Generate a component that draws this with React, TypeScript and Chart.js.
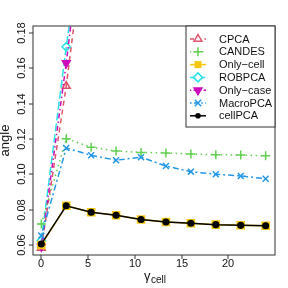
import React, { useEffect, useRef } from "react";
import { Chart, registerables } from "chart.js";

Chart.register(...registerables);

const gammaValues = [0, 2.667, 5.333, 8, 10.667, 13.333, 16, 18.667, 21.333, 24];
const cpca = [0.0583, 0.150, 0.262, 0.30, 0.33, 0.35, 0.36, 0.37, 0.38, 0.39];
const candes = [0.0719, 0.1202, 0.1153, 0.1132, 0.1124, 0.1121, 0.1115, 0.1111, 0.1109, 0.1105];
const onlyCell = [0.0600, 0.0822, 0.0785, 0.0768, 0.0744, 0.0730, 0.0723, 0.0715, 0.0711, 0.0709];
const robpca = [0.0625, 0.1722, 0.275, 0.31, 0.33, 0.35, 0.36, 0.37, 0.38, 0.39];
const onlyCase = [0.0590, 0.1630, 0.280, 0.31, 0.33, 0.35, 0.36, 0.37, 0.38, 0.39];
const macroPCA = [0.0653, 0.1149, 0.1108, 0.1080, 0.1097, 0.1047, 0.1015, 0.1000, 0.0991, 0.0975];
const cellPCA = [0.0605, 0.0822, 0.0785, 0.0768, 0.0744, 0.0730, 0.0723, 0.0715, 0.0711, 0.0709];

const xTicks = [0, 5, 10, 15, 20];
const yTicks = [0.06, 0.08, 0.10, 0.12, 0.14, 0.16, 0.18];
const yTickLabels = ["0.06", "0.08", "0.10", "0.12", "0.14", "0.16", "0.18"];

const seriesNames = ["CPCA", "CANDES", "Only\u2212cell", "ROBPCA", "Only\u2212case", "MacroPCA", "cellPCA"];
const seriesColors = ["#DF536B", "#61D04F", "#F5C710", "#28E2E5", "#CD0BBC", "#2297E6", "#000000"];
const seriesDash = [[5, 4], [1.5, 3.5], [], [8, 3], [1.5, 3, 5, 3], [2, 3, 6, 3], []];
const seriesMarker = ["triangle", "cross", "rect", "rectRot", "triangleDown", "crossRot", "circle"];
const seriesData = [cpca, candes, onlyCell, robpca, onlyCase, macroPCA, cellPCA];
const seriesOrder = [6, 3, 1, 5, 4, 2, 0];

const FONT = "'Liberation Sans', Arial, sans-serif";

function drawMarker(ctx: CanvasRenderingContext2D, kind: string, x: number, y: number, color: string) {
  ctx.save();
  ctx.setLineDash([]);
  ctx.strokeStyle = color;
  ctx.fillStyle = color;
  ctx.lineWidth = 1.5;
  ctx.beginPath();
  if (kind === "triangle") {
    const r = 4.5;
    ctx.moveTo(x, y - r);
    ctx.lineTo(x + r * 0.866, y + r * 0.5);
    ctx.lineTo(x - r * 0.866, y + r * 0.5);
    ctx.closePath();
    ctx.fillStyle = "#fff";
    ctx.fill();
    ctx.stroke();
  } else if (kind === "triangleDown") {
    const r = 4.5;
    ctx.moveTo(x, y + r);
    ctx.lineTo(x + r * 0.866, y - r * 0.5);
    ctx.lineTo(x - r * 0.866, y - r * 0.5);
    ctx.closePath();
    ctx.fill();
    ctx.stroke();
  } else if (kind === "cross") {
    const r = 4.5;
    ctx.moveTo(x - r, y);
    ctx.lineTo(x + r, y);
    ctx.moveTo(x, y - r);
    ctx.lineTo(x, y + r);
    ctx.stroke();
  } else if (kind === "crossRot") {
    const r = 3.2;
    ctx.moveTo(x - r, y - r);
    ctx.lineTo(x + r, y + r);
    ctx.moveTo(x + r, y - r);
    ctx.lineTo(x - r, y + r);
    ctx.stroke();
  } else if (kind === "rect") {
    const s = 3.5;
    ctx.fillRect(x - s, y - s, 2 * s, 2 * s);
  } else if (kind === "rectRot") {
    const r = 4.5;
    ctx.moveTo(x, y - r);
    ctx.lineTo(x + r, y);
    ctx.lineTo(x, y + r);
    ctx.lineTo(x - r, y);
    ctx.closePath();
    ctx.fillStyle = "#fff";
    ctx.fill();
    ctx.stroke();
  } else if (kind === "circle") {
    ctx.arc(x, y, 2.8, 0, Math.PI * 2);
    ctx.fill();
  }
  ctx.restore();
}

const decorPlugin = {
  id: "decor",
  afterDraw(chart: any) {
    const ctx: CanvasRenderingContext2D = chart.ctx;
    const area = chart.chartArea;
    const xs = chart.scales.x;
    const ys = chart.scales.y;
    ctx.save();
    ctx.strokeStyle = "#333";
    ctx.lineWidth = 1;
    ctx.setLineDash([]);
    ctx.strokeRect(area.left, area.top, area.right - area.left, area.bottom - area.top);

    ctx.fillStyle = "#111";
    ctx.font = `11px ${FONT}`;
    // x ticks
    ctx.textAlign = "center";
    ctx.textBaseline = "top";
    xTicks.forEach((t) => {
      const px = Math.round(xs.getPixelForValue(t));
      ctx.beginPath();
      ctx.moveTo(px, area.bottom);
      ctx.lineTo(px, area.bottom + 4);
      ctx.stroke();
      ctx.fillText(String(t), px, area.bottom + 3);
    });
    // y ticks
    yTicks.forEach((t, i) => {
      const py = Math.round(ys.getPixelForValue(t));
      ctx.beginPath();
      ctx.moveTo(area.left, py);
      ctx.lineTo(area.left - 4, py);
      ctx.stroke();
      ctx.save();
      ctx.translate(area.left - 6, py);
      ctx.rotate(-Math.PI / 2);
      ctx.textAlign = "center";
      ctx.textBaseline = "bottom";
      ctx.fillText(yTickLabels[i], 0, 0);
      ctx.restore();
    });
    // y title
    ctx.save();
    ctx.font = `13px ${FONT}`;
    ctx.translate(12, (area.top + area.bottom) / 2);
    ctx.rotate(-Math.PI / 2);
    ctx.textAlign = "center";
    ctx.textBaseline = "bottom";
    ctx.fillText("angle", 0, 0);
    ctx.restore();
    // x title: gamma with subscript
    ctx.save();
    ctx.textAlign = "left";
    ctx.textBaseline = "alphabetic";
    ctx.font = `13px ${FONT}`;
    ctx.fillText("\u03B3", 144, 280);
    ctx.font = `10px ${FONT}`;
    ctx.fillText("cell", 151, 283);
    ctx.restore();

    // legend
    const lx0 = 186, ly0 = area.top, lx1 = area.right, ly1 = 127;
    ctx.fillStyle = "#fff";
    ctx.fillRect(lx0, ly0, lx1 - lx0, ly1 - ly0);
    ctx.strokeStyle = "#333";
    ctx.strokeRect(lx0, ly0, lx1 - lx0, ly1 - ly0);
    ctx.font = `11px ${FONT}`;
    ctx.textAlign = "left";
    ctx.textBaseline = "middle";
    seriesNames.forEach((name, i) => {
      const y = 39 + i * 12.8;
      ctx.save();
      ctx.strokeStyle = seriesColors[i];
      ctx.lineWidth = 1.5;
      ctx.setLineDash(seriesDash[i].length ? seriesDash[i].map((d) => d * 0.8) : []);
      ctx.beginPath();
      ctx.moveTo(190, y);
      ctx.lineTo(206, y);
      ctx.stroke();
      ctx.restore();
      drawMarker(ctx, seriesMarker[i], 198, y, seriesColors[i]);
      ctx.fillStyle = "#111";
      ctx.fillText(name, 219, y + 0.5);
    });
    ctx.restore();
  },
};

export default function App() {
  const ref = useRef<HTMLCanvasElement>(null);
  useEffect(() => {
    document.body.style.margin = "0";
    const canvas = ref.current;
    if (!canvas) return;
    const datasets = seriesNames.map((name, i) => {
      const kind = seriesMarker[i];
      const isDown = kind === "triangleDown";
      const pointStyle = isDown ? "triangle" : kind;
      const open = kind === "triangle" || kind === "rectRot";
      let radius = 4.5;
      if (kind === "rect") radius = 5;
      if (kind === "circle") radius = 2.8;
      if (kind === "crossRot") radius = 4.2;
      if (kind === "rectRot") radius = 4.2;
      return {
        label: name,
        data: gammaValues.map((g, j) => ({ x: g, y: seriesData[i][j] })),
        borderColor: seriesColors[i],
        backgroundColor: seriesColors[i],
        borderWidth: 1.5,
        borderDash: seriesDash[i],
        pointStyle,
        pointRotation: isDown ? 180 : 0,
        pointRadius: radius,
        pointBorderWidth: 1.5,
        pointBorderColor: seriesColors[i],
        pointBackgroundColor: open ? "rgba(255,255,255,0)" : seriesColors[i],
        tension: 0,
        fill: false,
        order: seriesOrder[i],
      };
    });
    const chart = new Chart(canvas, {
      type: "line",
      data: { datasets: datasets as any },
      options: {
        responsive: false,
        animation: false,
        layout: { padding: { left: 33, top: 26, right: 13, bottom: 33 } },
        scales: {
          x: { type: "linear", min: -0.89, max: 25.0, display: false },
          y: { type: "linear", min: 0.0543, max: 0.184, display: false },
        },
        plugins: {
          legend: { display: false },
          tooltip: { enabled: false },
        },
      },
      plugins: [decorPlugin],
    });
    return () => chart.destroy();
  }, []);
  return (
    <div style={{ width: 288, height: 288 }}>
      <canvas ref={ref} width={288} height={288} style={{ display: "block" }} />
    </div>
  );
}
